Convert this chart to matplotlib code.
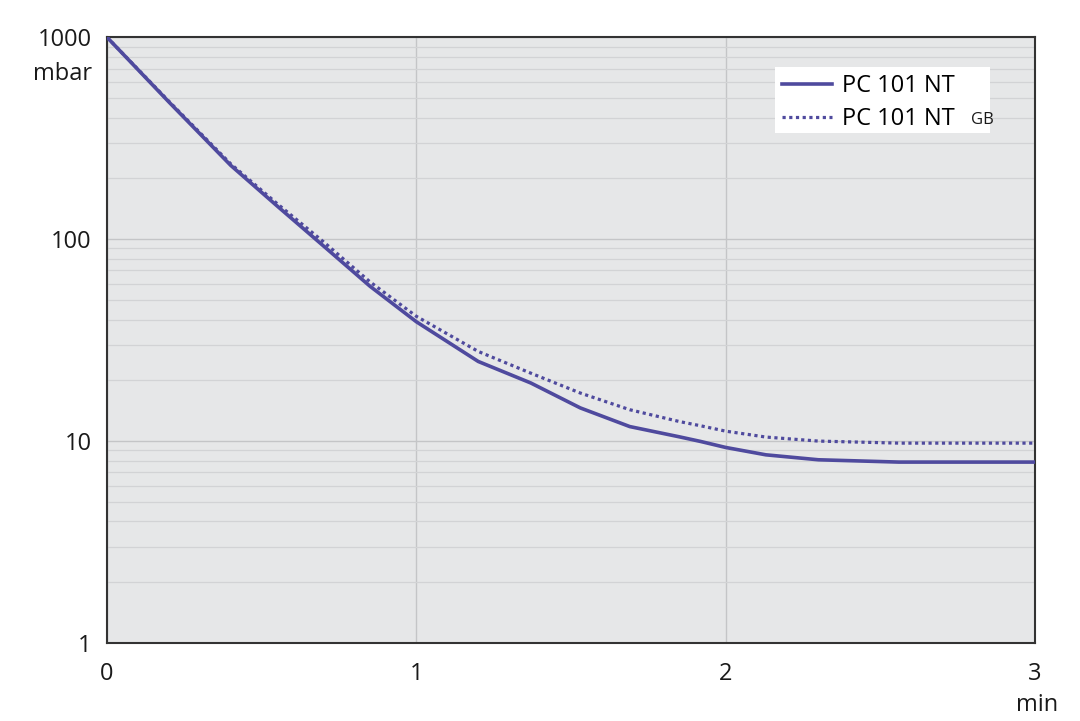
import matplotlib
matplotlib.use('Agg')
import matplotlib.pyplot as plt
from matplotlib.patches import Rectangle
from matplotlib.ticker import NullFormatter, LogLocator

plt.rcParams['font.family'] = ['Open Sans', 'DejaVu Sans']

# Pump-down curves (time in min, pressure in mbar)
t_nt = [0, 0.2, 0.4, 0.55, 0.7, 0.85, 1.0, 1.2, 1.37, 1.53, 1.69, 1.85, 1.92, 2.0, 2.13, 2.3, 2.56, 3.0]
p_nt = [1000, 478, 232, 146, 92.5, 58.5, 39, 24.8, 19.4, 14.6, 11.8, 10.5, 9.95, 9.3, 8.55, 8.08, 7.87, 7.87]

t_gb = [0, 0.2, 0.4, 0.55, 0.7, 0.85, 1.0, 1.2, 1.37, 1.53, 1.69, 1.85, 1.92, 2.0, 2.13, 2.3, 2.56, 3.0]
p_gb = [1000, 482, 236, 150, 97, 61.5, 41.5, 27.8, 21.7, 17.3, 14.3, 12.5, 11.9, 11.2, 10.47, 10.0, 9.77, 9.77]

x_ticks = [0, 1, 2, 3]
y_ticks = [1, 10, 100, 1000]
y_ticklabels = ['1', '10', '100', '1000']

line_color = '#4f4a9e'
text_color = '#1a1a1a'

fig = plt.figure(figsize=(10.8, 7.21), dpi=100)
ax = fig.add_axes([0.0991, 0.1082, 0.8592, 0.8401])
ax.set_facecolor('#e6e7e8')

ax.set_yscale('log')
ax.set_xlim(0, 3)
ax.set_ylim(1, 1000)

# grid
ax.yaxis.set_minor_locator(LogLocator(base=10, subs=range(2, 10)))
ax.yaxis.set_minor_formatter(NullFormatter())
ax.set_xticks(x_ticks)
ax.set_yticks(y_ticks)
ax.set_yticklabels(y_ticklabels)
ax.set_xticklabels([str(v) for v in x_ticks])
ax.grid(True, which='major', axis='both', color='#c4c5c7', lw=1.0)
ax.grid(True, which='minor', axis='y', color='#d2d3d5', lw=0.9)
ax.set_axisbelow(True)
ax.tick_params(which='both', length=0, labelsize=17, colors=text_color)
ax.tick_params(axis='y', pad=11)
ax.tick_params(axis='x', pad=14)

for s in ax.spines.values():
    s.set_color('#333333')
    s.set_linewidth(1.5)

ax.plot(t_nt, p_nt, color=line_color, lw=2.6, label='PC 101 NT', zorder=3)
ax.plot(t_gb, p_gb, color=line_color, lw=2.3, linestyle=(0, (1, 1.1)),
        dash_capstyle='butt', label='PC 101 NT', zorder=3)

# white legend box (wide enough for the GB suffix)
ax.add_patch(Rectangle((0.7198, 0.842), 0.2317, 0.109, transform=ax.transAxes,
                       facecolor='white', edgecolor='none', zorder=4))
leg = ax.legend(loc='upper left', bbox_to_anchor=(0.72, 0.951), fontsize=17,
                frameon=False, handlelength=2.1, handletextpad=0.45,
                borderpad=0.3, labelspacing=0.4, borderaxespad=0)
leg.set_zorder(5)

# small "GB" suffix after the second legend entry
fig.canvas.draw()
txt = leg.get_texts()[1]
bb = txt.get_window_extent()
inv = fig.transFigure.inverted()
x1, y0 = inv.transform((bb.x1, bb.y0))
fig.text(x1 + 16 / 1080, y0 + 7 / 721, 'GB', fontsize=12, color=text_color,
         va='baseline', ha='left', zorder=6)

# unit labels
fig.text(0.0855, 0.897, 'mbar', fontsize=17, ha='right', va='center', color=text_color)
fig.text(0.960, 0.022, 'min', fontsize=17, ha='center', va='center', color=text_color)

fig.savefig('out.png', dpi=100)
